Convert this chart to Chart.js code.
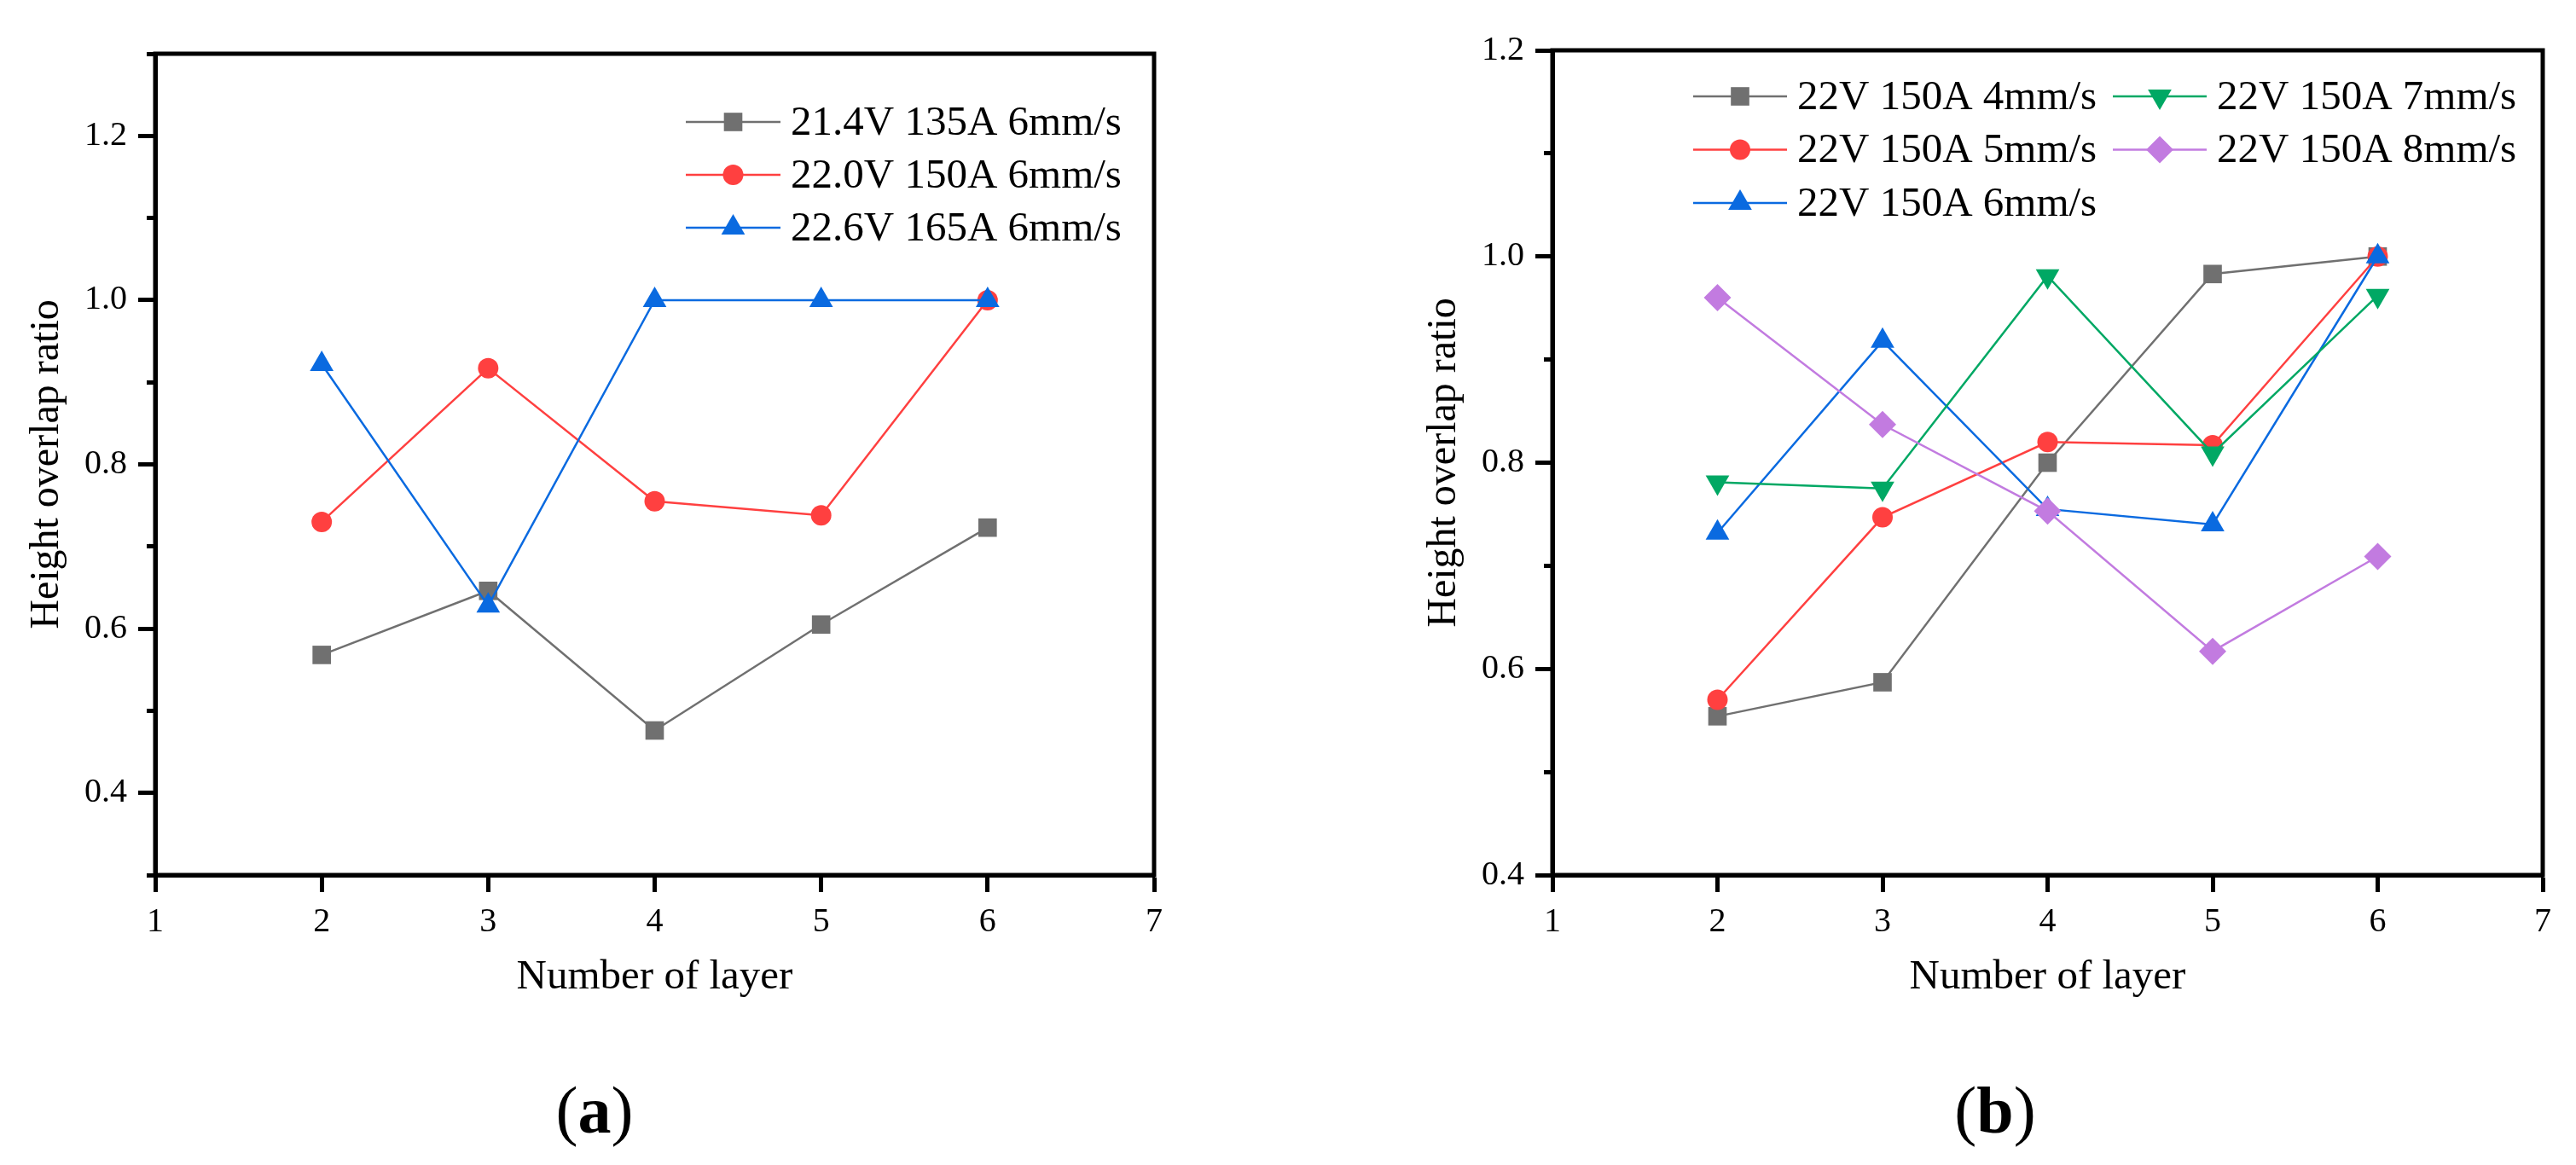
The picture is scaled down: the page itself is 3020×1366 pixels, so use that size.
<!DOCTYPE html>
<html>
<head>
<meta charset="utf-8">
<script src="https://cdn.jsdelivr.net/npm/chart.js@4.4.1/dist/chart.umd.min.js"></script>
<style>
  html, body { margin: 0; padding: 0; background: #fff; }
  #page { position: relative; width: 3020px; height: 1366px; overflow: hidden; }
  .box { position: absolute; top: 0; width: 1510px; height: 1366px; }
  .tag { position: absolute; transform: translate(-50%, -50%); font: 78px "Liberation Serif", serif; color: #000; }
</style>
</head>
<body>
<div id="page">
  <div class="box" style="left:0"><canvas id="chartA"></canvas></div>
  <div class="box" style="left:1510px"><canvas id="chartB"></canvas></div>
  <div class="tag" style="left:697px; top:1302px">(<b>a</b>)</div>
  <div class="tag" style="left:2339px; top:1302px">(<b>b</b>)</div>
</div>
<script>
// x 值：层数
var layers = [2, 3, 4, 5, 6];
var xTicks = [1, 2, 3, 4, 5, 6, 7];

// (a) 不同电压电流
var namesA = ['21.4V 135A 6mm/s', '22.0V 150A 6mm/s', '22.6V 165A 6mm/s'];
var a1 = [0.568, 0.646, 0.476, 0.605, 0.723];
var a2 = [0.730, 0.917, 0.755, 0.738, 1.000];
var a3 = [0.922, 0.628, 1.000, 1.000, 1.000];
var yTicksA = [0.4, 0.6, 0.8, 1.0, 1.2];

// (b) 不同扫描速度
var namesB = ['22V 150A 4mm/s', '22V 150A 5mm/s', '22V 150A 6mm/s', '22V 150A 7mm/s', '22V 150A 8mm/s'];
var b4 = [0.554, 0.587, 0.800, 0.983, 1.000];
var b5 = [0.570, 0.747, 0.820, 0.817, 1.000];
var b6 = [0.732, 0.918, 0.755, 0.740, 1.000];
var b7 = [0.781, 0.775, 0.981, 0.809, 0.962];
var b8 = [0.960, 0.837, 0.753, 0.617, 0.709];
var yTicksB = [0.4, 0.6, 0.8, 1.0, 1.2];

var looks = [
  {color: '#707070', shape: 'rect', r: 15.3, rot: 0},
  {color: '#ff4040', shape: 'circle', r: 12, rot: 0},
  {color: '#0a6ae0', shape: 'triangle', r: 16, rot: 0},
  {color: '#00a864', shape: 'triangle', r: 16, rot: 180},
  {color: '#c27be0', shape: 'rectRot', r: 16, rot: 0}
];

var FONT = '"Liberation Serif", "Times New Roman", serif';

function marker(ctx, shape, x, y, r, rot, color){
  ctx.save();
  ctx.fillStyle = color;
  ctx.beginPath();
  if(shape == 'circle'){
    ctx.arc(x, y, r, 0, Math.PI*2);
  }else if(shape == 'rect'){
    var s = r*Math.SQRT1_2;
    ctx.rect(x-s, y-s, 2*s, 2*s);
  }else if(shape == 'rectRot'){
    ctx.moveTo(x, y-r); ctx.lineTo(x+r, y); ctx.lineTo(x, y+r); ctx.lineTo(x-r, y);
    ctx.closePath();
  }else{
    var a = rot*Math.PI/180;
    for(var k=0;k<3;k++){
      var px = x + Math.sin(a)*r, py = y - Math.cos(a)*r;
      if(k==0) ctx.moveTo(px, py); else ctx.lineTo(px, py);
      a += Math.PI*2/3;
    }
    ctx.closePath();
  }
  ctx.fill();
  ctx.restore();
}

// 外框
var frame = {
  id: 'frame',
  afterDraw: function(chart){
    var c = chart.ctx, a = chart.chartArea;
    c.save();
    c.strokeStyle = '#000';
    c.lineWidth = 5;
    c.strokeRect(a.left, a.top, a.right-a.left, a.bottom-a.top);
    c.restore();
  }
};

// 图例画在绘图区里
var inLegend = {
  id: 'inLegend',
  afterDraw: function(chart, args, o){
    var c = chart.ctx;
    var sets = chart.data.datasets;
    c.save();
    c.font = '49px ' + FONT;
    c.textBaseline = 'middle';
    for(var i=0;i<sets.length;i++){
      var d = sets[i];
      var col = Math.floor(i/o.perCol), row = i % o.perCol;
      var x0 = o.x + col*o.colW, y = o.y + row*o.rowH;
      c.strokeStyle = d.borderColor;
      c.lineWidth = d.borderWidth;
      c.beginPath(); c.moveTo(x0, y); c.lineTo(x0+o.lineLen, y); c.stroke();
      marker(c, d.pointStyle, x0+o.lineLen/2, y, d.pointRadius, d.pointRotation, d.backgroundColor);
      c.fillStyle = '#000';
      c.fillText(d.label, x0+o.lineLen+o.gap, y+2);
    }
    c.restore();
  }
};

function isMinor(v){
  return Math.round(v*10) % 2 != 0;
}

function makeChart(id, names, series, yMin, yMax, yLabels, pad, legendOpts){
  var datasets = series.map(function(vals, i){
    var lk = looks[i];
    return {
      label: names[i],
      data: layers.map(function(x, j){ return {x: x, y: vals[j]}; }),
      borderColor: lk.color,
      backgroundColor: lk.color,
      borderWidth: 2.5,
      pointStyle: lk.shape,
      pointRadius: lk.r,
      pointHoverRadius: lk.r,
      pointRotation: lk.rot,
      pointBorderWidth: 0,
      tension: 0,
      order: -i
    };
  });
  var ctx = document.getElementById(id).getContext('2d');
  return new Chart(ctx, {
    type: 'line',
    data: {datasets: datasets},
    plugins: [frame, inLegend],
    options: {
      responsive: true,
      maintainAspectRatio: false,
      animation: false,
      layout: {padding: pad},
      plugins: {
        legend: {display: false},
        tooltip: {enabled: false},
        inLegend: legendOpts
      },
      scales: {
        x: {
          type: 'linear',
          min: xTicks[0],
          max: xTicks[xTicks.length-1],
          afterBuildTicks: function(s){ s.ticks = xTicks.map(function(v){ return {value: v}; }); },
          ticks: {font: {family: FONT, size: 40}, color: '#000', padding: 11, maxRotation: 0},
          grid: {drawOnChartArea: false, tickLength: 20, tickWidth: 5, tickColor: '#000'},
          border: {width: 5, color: '#000'},
          title: {display: true, text: 'Number of layer', color: '#000',
                  font: {family: FONT, size: 49}, padding: {top: 0, bottom: 44}},
          afterFit: function(s){ s.height = 194; }
        },
        y: {
          min: yMin,
          max: yMax,
          ticks: {
            stepSize: 0.1,
            font: {family: FONT, size: 40}, color: '#000', padding: 13,
            callback: function(v){
              var t = Math.round(v*10)/10;
              return yLabels.indexOf(t) >= 0 ? t.toFixed(1) : '';
            }
          },
          grid: {
            drawOnChartArea: false, tickLength: 20, tickWidth: 5, tickColor: '#000',
            tickBorderDash: function(c){ return c.tick && isMinor(c.tick.value) ? [10, 10] : []; },
            tickBorderDashOffset: function(c){ return c.tick && isMinor(c.tick.value) ? 10 : 0; }
          },
          border: {width: 5, color: '#000'},
          title: {display: true, text: 'Height overlap ratio', color: '#000',
                  font: {family: FONT, size: 48}, padding: {top: 27, bottom: 0}},
          afterFit: function(s){ s.width = 182; }
        }
      }
    }
  });
}

var chartA = makeChart('chartA', namesA, [a1, a2, a3], 0.3, 1.3, yTicksA,
  {left: 0, top: 63, right: 157, bottom: 146},
  {x: 804, y: 143, rowH: 62, colW: 0, perCol: 3, lineLen: 111, gap: 12});

var chartB = makeChart('chartB', namesB, [b4, b5, b6, b7, b8], 0.4, 1.2, yTicksB,
  {left: 128, top: 59, right: 39, bottom: 146},
  {x: 475, y: 113, rowH: 62.5, colW: 492, perCol: 3, lineLen: 110, gap: 12});
</script>
</body>
</html>
